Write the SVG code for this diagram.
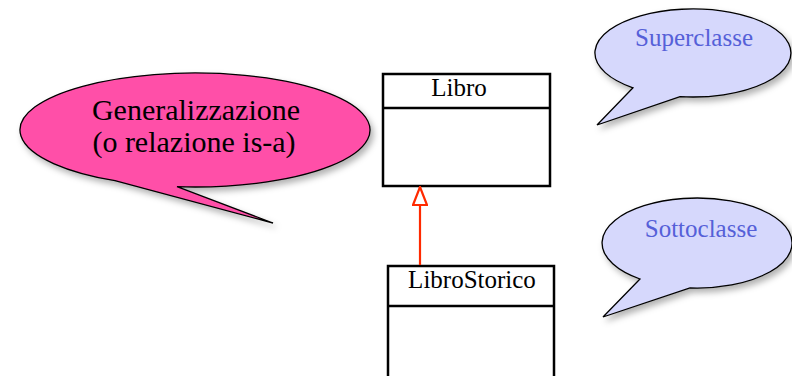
<svg xmlns="http://www.w3.org/2000/svg" width="792" height="376" viewBox="0 0 792 376">
<style>
.bubble-pink{fill:#ff50a8;stroke:#000;stroke-width:1.3;filter:url(#sh)}
.bubble-blue{fill:#d6d8fc;stroke:#000;stroke-width:1.3;filter:url(#sh)}
.t-big{font-family:"Liberation Serif","Times New Roman",serif;font-size:30px;fill:#000;text-anchor:middle}
.t-blue{font-family:"Liberation Serif","Times New Roman",serif;font-size:25px;fill:#5560d8;text-anchor:middle}
.t-cls{font-family:"Liberation Serif","Times New Roman",serif;font-size:25px;fill:#000;text-anchor:middle}
.box{fill:#fff;stroke:#000;stroke-width:2.5}
.div{stroke:#000;stroke-width:2.5}
.gen{stroke:#ff2a00;stroke-width:2.2;fill:none}
</style>
<defs>
<filter id="sh" x="-10%" y="-10%" width="130%" height="140%">
<feDropShadow dx="3" dy="4" stdDeviation="3" flood-color="#000" flood-opacity="0.3"/>
</filter>
<marker id="tri" viewBox="0 0 20 16" refX="19" refY="8" markerWidth="20" markerHeight="16" markerUnits="userSpaceOnUse" orient="auto">
<path d="M1,1 L19,8 L1,15 Z" fill="#fff" stroke="#ff2a00" stroke-width="2.2"/>
</marker>
</defs>
<rect width="792" height="376" fill="#fff"/>
<g id="callout-generalizzazione">
<path class="bubble-pink" d="M115,180.7 A175 57 0 1 1 177,186.7 L273,223 Z"/>
<text class="t-big" x="196" y="120">Generalizzazione</text>
<text class="t-big" x="194" y="152">(o relazione is-a)</text>
</g>
<g id="callout-superclasse">
<path class="bubble-blue" d="M633,87.8 A98 44 0 1 1 680,96.6 L597,125 Z"/>
<text class="t-blue" x="694" y="46">Superclasse</text>
</g>
<g id="callout-sottoclasse">
<path class="bubble-blue" d="M640,279 A95 45 0 1 1 690,287.9 L603,317 Z"/>
<text class="t-blue" x="701" y="237">Sottoclasse</text>
</g>
<g id="class-libro">
<rect class="box" x="383" y="74" width="167" height="112"/>
<line class="div" x1="383" y1="108" x2="550" y2="108"/>
<text class="t-cls" x="459" y="96">Libro</text>
</g>
<g id="class-librostorico">
<rect class="box" x="388" y="266" width="166" height="116"/>
<line class="div" x1="388" y1="306" x2="554" y2="306"/>
<text class="t-cls" x="472" y="288">LibroStorico</text>
</g>
<g id="connectors">
<line class="gen" x1="420" y1="265" x2="420" y2="187" marker-end="url(#tri)"/>
</g>
</svg>
